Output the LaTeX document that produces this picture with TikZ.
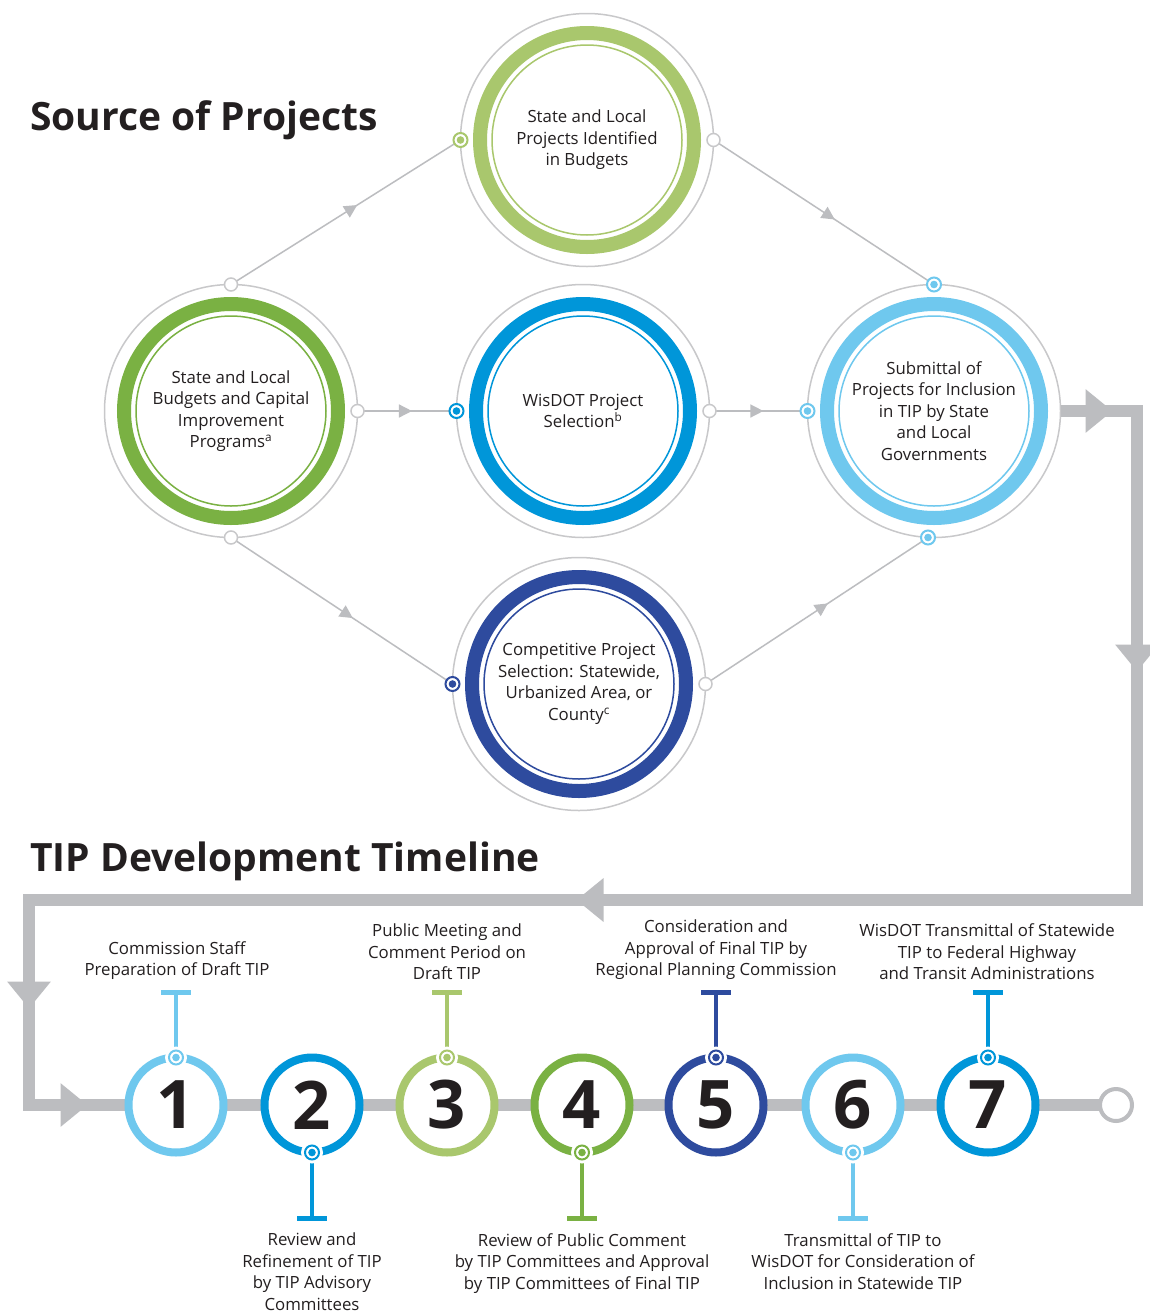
\documentclass[tikz,border=0pt]{standalone}
\usepackage{fontspec}
\setmainfont{Open Sans}
\usepackage{tikz}
\usetikzlibrary{arrows.meta,decorations.markings}

\definecolor{ink}{HTML}{231F20}
\definecolor{lgreen}{HTML}{A9C76D}
\definecolor{dgreen}{HTML}{7AB143}
\definecolor{wblue}{HTML}{0096D9}
\definecolor{lblue}{HTML}{6FC8EE}
\definecolor{nblue}{HTML}{2E4B9E}
\definecolor{lanegray}{HTML}{BCBDC0}
\definecolor{ringgray}{HTML}{C8C8CA}

% big project circle: name, position, colour, text
\newcommand{\srcring}[4]{%
	\node[halo] (#1) at (#2) {};
	\draw[#3, line width=14pt] (#1.center) circle [radius=107pt];
	\draw[#3, line width=1.5pt] (#1.center) circle [radius=95pt];
	\node[txt] (#1-txt) at (#1.center) {#4};
}
% coloured and empty dots on the rings
\newcommand{\portdot}[2]{%
	\draw[#2, line width=2pt, fill=white] (#1) circle [radius=7pt];
	\fill[#2] (#1) circle [radius=3.8pt];
}
\newcommand{\openport}[1]{%
	\draw[ringgray, line width=1.5pt, fill=white] (#1) circle [radius=6.5pt];
}
% timeline stage: name, x, colour, number
\newcommand{\stagecirc}[4]{%
	\node[stage=#3] (#1) at (#2,1105) {#4};
}
% stem with T bar: from anchor to coordinate, colour
\newcommand{\stagestem}[3]{%
	\draw[#3, line width=4pt] (#1) -- (#2);
	\draw[#3, line width=5pt] ([xshift=-15pt]#2) -- ([xshift=15pt]#2);
	\fill[white] (#1) circle [radius=11pt];
	\portdot{#1}{#3}
}

\begin{document}
\begin{tikzpicture}[x=1pt,y=-1pt,
	txt/.style={text=ink, font=\fontsize{16.8}{21.5}\selectfont, align=center, inner sep=0pt},
	title/.style={text=ink, font=\fontsize{39}{44}\bfseries\selectfont, anchor=base west, inner sep=0pt},
	halo/.style={circle, draw=ringgray, line width=1.5pt, fill=white, minimum size=253pt, inner sep=0pt, outer sep=0pt},
	stage/.style={circle, draw=#1, line width=8pt, fill=white, minimum size=95pt, inner sep=0pt, outer sep=0pt,
		text=ink, font=\fontsize{67}{67}\bfseries\selectfont},
	flow/.style={draw=ringgray, color=lanegray, line width=1.5pt, postaction={decorate},
		decoration={markings, mark=at position 0.55 with {\arrow{Triangle[length=13pt,width=13pt]}}}},
	lane/.style={draw=lanegray, color=lanegray, line width=12pt, line join=miter, postaction={decorate},
		decoration={markings,
			mark=at position 52pt with {\arrow{Triangle[length=27pt,width=42pt]}},
			mark=at position 337pt with {\arrow{Triangle[length=27pt,width=42pt]}},
			mark=at position 1126pt with {\arrow{Triangle[length=27pt,width=42pt]}},
			mark=at position 1782pt with {\arrow{Triangle[length=27pt,width=42pt]}},
			mark=at position 1937pt with {\arrow{Triangle[length=27pt,width=42pt]}}}}
	]
	\path[use as bounding box, fill=white] (0,0) rectangle (1150,1315);
	%\draw[help lines] (0,0) grid[step=50] (1150,1315);

	\node[title] (srctitle) at (30,130) {Source of Projects};
	\node[title] (tiptitle) at (30,871) {TIP Development Timeline};

	% source of projects
	\srcring{src}{587,140}{lgreen}{State and Local\\Projects Identified\\in Budgets}
	\srcring{bud}{231,411}{dgreen}{State and Local\\Budgets and Capital\\Improvement\\Programs\textsuperscript{a}}
	\srcring{wis}{583,411}{wblue}{WisDOT Project\\Selection\textsuperscript{b}}
	\srcring{sub}{934,411}{lblue}{Submittal of\\Projects for Inclusion\\in TIP by State\\and Local\\Governments}
	\srcring{comp}{579,684}{nblue}{Competitive Project\\Selection: Statewide,\\Urbanized Area, or\\County\textsuperscript{c}}

	\draw[flow] (bud.north) -- (src.west);
	\draw[flow] (src.east) -- (sub.north);
	\draw[flow] (bud.east) -- (wis.west);
	\draw[flow] (wis.east) -- (sub.west);
	\draw[flow] (bud.south) -- (comp.west);
	\draw[flow] (comp.east) -- ([xshift=-6pt]sub.south);

	\openport{bud.north}
	\openport{bud.east}
	\openport{bud.south}
	\openport{src.east}
	\openport{wis.east}
	\openport{comp.east}
	\portdot{src.west}{lgreen}
	\portdot{wis.west}{wblue}
	\portdot{comp.west}{nblue}
	\portdot{sub.north}{lblue}
	\portdot{sub.west}{lblue}
	\portdot{[xshift=-6pt]sub.south}{lblue}

	% lane down to the timeline
	\coordinate (ne) at (1137,411);
	\coordinate (se) at (1137,900);
	\coordinate (sw) at (29,900);
	\coordinate (lw) at (29,1105);
	\node[circle, draw=lanegray, line width=4pt, fill=white, minimum size=32pt, inner sep=0pt, outer sep=0pt] (endc) at (1116,1105) {};
	\draw[lane] (sub.east) -- (ne) -- (se) -- (sw) -- (lw) -- (endc.west);

	% timeline
	\stagecirc{n1}{176}{lblue}{1}
	\stagecirc{n2}{312}{wblue}{2}
	\stagecirc{n3}{447}{lgreen}{3}
	\stagecirc{n4}{582}{dgreen}{4}
	\stagecirc{n5}{716}{nblue}{5}
	\stagecirc{n6}{853}{lblue}{6}
	\stagecirc{n7}{988}{wblue}{7}

	\coordinate (t1) at (176,992);
	\coordinate (t2) at (312,1218);
	\coordinate (t3) at (447,992);
	\coordinate (t4) at (582,1218);
	\coordinate (t5) at (716,992);
	\coordinate (t6) at (853,1218);
	\coordinate (t7) at (988,992);
	\stagestem{n1.north}{t1}{lblue}
	\stagestem{n2.south}{t2}{wblue}
	\stagestem{n3.north}{t3}{lgreen}
	\stagestem{n4.south}{t4}{dgreen}
	\stagestem{n5.north}{t5}{nblue}
	\stagestem{n6.south}{t6}{lblue}
	\stagestem{n7.north}{t7}{wblue}

	\node[txt, anchor=south] (l1) at (177,980) {Commission Staff\\Preparation of Draft TIP};
	\node[txt, anchor=south] (l3) at (447,980) {Public Meeting and\\Comment Period on\\Draft TIP};
	\node[txt, anchor=south] (l5) at (716,980) {Consideration and\\Approval of Final TIP by\\Regional Planning Commission};
	\node[txt, anchor=south] (l7) at (987,980) {WisDOT Transmittal of Statewide\\TIP to Federal Highway\\and Transit Administrations};
	\node[txt, anchor=north] (l2) at (312,1233) {Review and\\Refinement of TIP\\by TIP Advisory\\Committees};
	\node[txt, anchor=north] (l4) at (582,1233) {Review of Public Comment\\by TIP Committees and Approval\\by TIP Committees of Final TIP};
	\node[txt, anchor=north] (l6) at (863,1233) {Transmittal of TIP to\\WisDOT for Consideration of\\Inclusion in Statewide TIP};
\end{tikzpicture}
\end{document}
